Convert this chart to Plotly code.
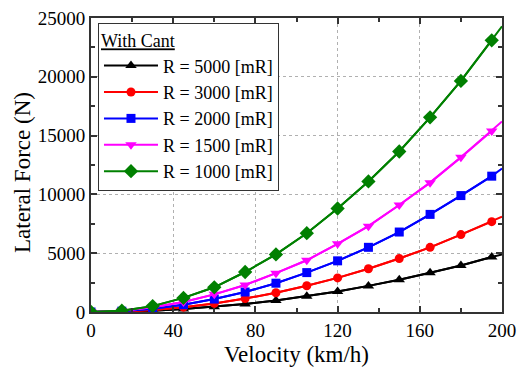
import plotly.graph_objects as go

# Velocity samples (km/h); the last point only extends the curve to the axis end
velocity = [0, 15, 30, 45, 60, 75, 90, 105, 120, 135, 150, 165, 180, 195, 200]

# Lateral force (N) for each curve radius, with cant
force_r5000 = [0, 30, 110, 250, 440, 680, 980, 1340, 1750, 2220, 2740, 3330, 3960, 4670, 4900]
force_r3000 = [0, 45, 180, 410, 730, 1140, 1640, 2230, 2900, 3680, 4550, 5500, 6580, 7680, 8100]
force_r2000 = [0, 70, 280, 620, 1100, 1700, 2450, 3350, 4350, 5500, 6800, 8300, 9900, 11550, 12200]
force_r1500 = [0, 100, 400, 850, 1500, 2300, 3300, 4400, 5800, 7300, 9100, 11000, 13150, 15400, 16200]
force_r1000 = [0, 110, 500, 1200, 2100, 3400, 4900, 6700, 8800, 11100, 13650, 16550, 19650, 23100, 24300]

series = [
    ("R = 5000 [mR]", force_r5000, "black", "triangle-up", 10),
    ("R = 3000 [mR]", force_r3000, "red", "circle", 9),
    ("R = 2000 [mR]", force_r2000, "blue", "square", 9),
    ("R = 1500 [mR]", force_r1500, "magenta", "triangle-down", 10),
    ("R = 1000 [mR]", force_r1000, "green", "diamond", 11),
]

font_family = "Liberation Serif"

fig = go.Figure()
for name, values, color, symbol, size in series:
    # continuous line across the full range
    fig.add_trace(go.Scatter(
        x=velocity, y=values, mode="lines",
        line=dict(color=color, width=2),
        showlegend=False, hoverinfo="skip",
    ))
    # markers at the sampled velocities
    fig.add_trace(go.Scatter(
        x=velocity[:-1], y=values[:-1], mode="lines+markers", name=name,
        line=dict(color=color, width=2),
        marker=dict(symbol=symbol, size=size, color=color),
    ))

axis_common = dict(
    showline=True, linecolor="#333333", linewidth=2, mirror="ticks",
    ticks="inside", ticklen=6, tickwidth=1.5, tickcolor="#333333",
    showgrid=True, gridcolor="#b0b0b0", griddash="dot", gridwidth=1,
    zeroline=False, automargin=False, tickformat="d",
    tickfont=dict(family=font_family, size=19, color="black"),
)

fig.update_xaxes(
    range=[0, 200], dtick=40, tick0=0,
    minor=dict(dtick=20, ticks="inside", ticklen=4, tickcolor="#333333", showgrid=False),
    **axis_common,
)
fig.update_yaxes(
    range=[0, 25000], dtick=5000, tick0=0,
    minor=dict(dtick=2500, ticks="inside", ticklen=4, tickcolor="#333333", showgrid=False),
    **axis_common,
)

title_font = dict(family=font_family, size=23, color="black")
fig.add_annotation(
    text="Velocity (km/h)", xref="paper", yref="paper", x=0.5, y=-0.146,
    xanchor="center", yanchor="middle", showarrow=False, font=title_font,
)
fig.add_annotation(
    text="Lateral Force (N)", xref="paper", yref="paper", x=-0.168, y=0.476,
    xanchor="center", yanchor="middle", showarrow=False, textangle=-90, font=title_font,
)

fig.update_layout(
    width=522, height=367,
    margin=dict(l=91, r=20, t=18, b=55),
    plot_bgcolor="white", paper_bgcolor="white",
    legend=dict(
        x=0.017, y=0.983, xanchor="left", yanchor="top",
        bgcolor="white", bordercolor="#333333", borderwidth=1,
        font=dict(family=font_family, size=18, color="black"),
        title=dict(text="<u>With Cant</u>", font=dict(family=font_family, size=18, color="black")),
        itemwidth=54, tracegroupgap=0,
    ),
)

fig.write_html("out.html")
